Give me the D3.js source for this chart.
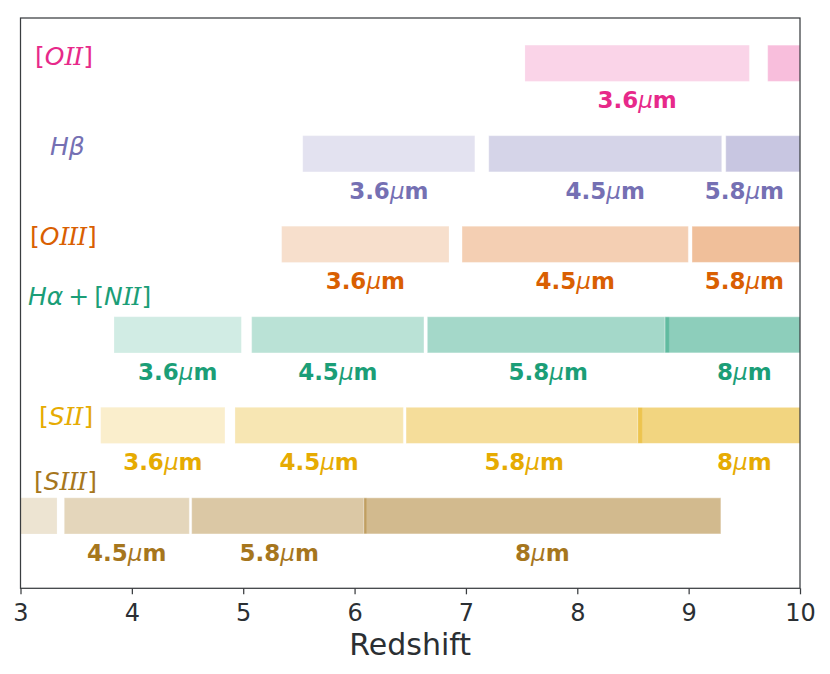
<!DOCTYPE html>
<html>
<head>
<meta charset="utf-8">
<script src="https://cdn.jsdelivr.net/npm/d3@7"></script>
<style>
  body { margin: 0; background: #fff; }
  svg { display: block; font-family: "DejaVu Sans", sans-serif; }
</style>
</head>
<body>
<div class="graphics"></div>
<script>
// emission lines, top row first
var lineNames = ["[OII]", "Hβ", "[OIII]", "Hα+[NII]", "[SII]", "[SIII]"];
// IRAC bands
var bands = ["3.6", "4.5", "5.8", "8"];

// redshift range [start, end] of each line inside each band (null = no bar)
var zOII  = [[7.53, 9.545], [9.71, 12.44], null, null];
var zHb   = [[5.535, 7.08], [7.205, 9.297], [9.333, 12.37], null];
var zOIII = [[5.345, 6.848], [6.965, 8.997], [9.03, 11.98], null];
var zHa   = [[3.84, 4.983], [5.076, 6.623], [6.653, 8.826], [8.787, 13.2]];
var zSII  = [[3.72, 4.836], [4.926, 6.438], [6.462, 8.584], [8.542, 12.9]];
var zSIII = [[2.51, 3.328], [3.393, 4.516], [4.537, 6.109], [6.082, 9.29]];

var ranges = [zOII, zHb, zOIII, zHa, zSII, zSIII];
var xTicks = [3, 4, 5, 6, 7, 8, 9, 10];

// estilos (Dark2)
var lineColors = ["#e7298a", "#7570b3", "#d95f02", "#1b9e77", "#e6ab02", "#a6761d"];
var bandAlpha = [0.2, 0.3, 0.4, 0.5];

// where each line name sits: redshift of its left edge, baseline shift from row centre (px)
var nameX = [3.13, 3.265, 3.085, 3.067, 3.148, 3.103];
var nameDy = [1.5, 1, 1, -30, 0, -26];

var W = 830, H = 674;
// ojo: "top" es window.top, no usarlo como variable
var pL = 20.5, pR = 800, pT = 18, pB = 588.3;

var x = d3.scaleLinear().domain([3, 10]).range([pL, pR]);
// rows at 6..1, bars 0.4 high
var y = d3.scaleLinear().domain([0.2, 6.5]).range([pB, pT]);
var barH = y(0) - y(0.4);

var svg = d3.select('.graphics')
    .append('svg')
    .attr("width", W)
    .attr("height", H);

svg.append("clipPath").attr("id", "plotclip")
    .append("rect")
    .attr("x", pL).attr("y", pT)
    .attr("width", pR - pL).attr("height", pB - pT);

// una lista plana de barras
var bars = [];
ranges.forEach(function(row, i){
    row.forEach(function(r, j){
        if (r) bars.push({row: i, band: j, z0: r[0], z1: r[1]});
    });
});

var plot = svg.append("g").attr("clip-path", "url(#plotclip)");

plot.selectAll("rect.bar")
    .data(bars)
    .enter()
    .append("rect")
    .attr("class", "bar")
    .attr("x", function(d){ return x(d.z0); })
    .attr("width", function(d){ return x(d.z1) - x(d.z0); })
    .attr("y", function(d){ return y(6 - d.row) - barH / 2; })
    .attr("height", barH)
    .attr("fill", function(d){ return lineColors[d.row]; })
    .attr("fill-opacity", function(d){ return bandAlpha[d.band]; })
    .attr("stroke", "#fff")
    .attr("stroke-opacity", function(d){ return bandAlpha[d.band]; })
    .attr("stroke-width", 1);

// band labels under the bars, only when enough of the bar is visible
var labeled = bars.filter(function(d){
    return Math.min(d.z1, 10) - Math.max(d.z0, 3) >= 0.5;
});

var bl = svg.selectAll("text.bandlabel")
    .data(labeled)
    .enter()
    .append("text")
    .attr("class", "bandlabel")
    .attr("x", function(d){
        var mid = (d.z0 + d.z1) / 2;
        return x(Math.min(mid, 9.5));
    })
    .attr("y", function(d){ return y(6 - d.row) + barH / 2 + 27; })
    .attr("text-anchor", "middle")
    .attr("fill", function(d){ return lineColors[d.row]; })
    .attr("font-size", 23);
bl.append("tspan").attr("font-weight", "bold").text(function(d){ return bands[d.band]; });
bl.append("tspan").attr("font-style", "italic").text("μ");
bl.append("tspan").attr("font-weight", "bold").text("m");

// nombres de las lineas (mathtext: letras en italica, corchetes rectos)
// 0 = recto, 1 = italica, 2 = italica con serifa (la I de mathtext)
var nameParts = [
    [["[", 0], ["O", 1], ["II", 2], ["]", 0, 1]],
    [["Hβ", 1]],
    [["[", 0], ["O", 1], ["III", 2], ["]", 0, 1]],
    [["Hα", 1], ["+", 0, 5], ["[", 0, 5], ["N", 1], ["II", 2], ["]", 0, 1]],
    [["[", 0, 2], ["S", 1], ["II", 2], ["]", 0, 1]],
    [["[", 0, 2], ["S", 1], ["III", 2], ["]", 0, 1]]
];

var names = svg.selectAll("text.linename")
    .data(lineNames)
    .enter()
    .append("text")
    .attr("class", "linename")
    .attr("x", function(d, i){ return x(nameX[i]); })
    .attr("y", function(d, i){ return y(6 - i) + nameDy[i]; })
    .attr("fill", function(d, i){ return lineColors[i]; })
    .attr("font-size", 25);

names.each(function(d, i){
    var t = d3.select(this);
    nameParts[i].forEach(function(p){
        var s = t.append("tspan")
            .attr("font-style", p[1] ? "italic" : "normal")
            .attr("dx", p[2] || 0)
            .text(p[0]);
        if (p[1] === 2) s.attr("font-family", "DejaVu Serif").attr("letter-spacing", -1);
    });
});

// eje x
var xAxis = d3.axisBottom(x)
    .tickValues(xTicks)
    .tickFormat(d3.format("d"))
    .tickSize(6)
    .tickSizeOuter(0);

var gx = svg.append("g")
    .attr("transform", "translate(0," + pB + ")")
    .call(xAxis);
gx.select(".domain").remove();
gx.selectAll(".tick line").attr("stroke", "#3a3d40").attr("stroke-width", 1.25);
gx.selectAll(".tick text")
    .attr("fill", "#2b2f33")
    .attr("font-size", 24)
    .attr("font-family", "DejaVu Sans")
    .attr("dy", 0)
    .attr("y", 32.4);

// marco
svg.append("rect")
    .attr("x", pL).attr("y", pT)
    .attr("width", pR - pL).attr("height", pB - pT)
    .attr("fill", "none")
    .attr("stroke", "#3a3d40")
    .attr("stroke-width", 1.25);

svg.append("text")
    .attr("x", (pL + pR) / 2)
    .attr("y", 655)
    .attr("text-anchor", "middle")
    .attr("fill", "#2b2f33")
    .attr("font-size", 30)
    .text("Redshift");
</script>
</body>
</html>
